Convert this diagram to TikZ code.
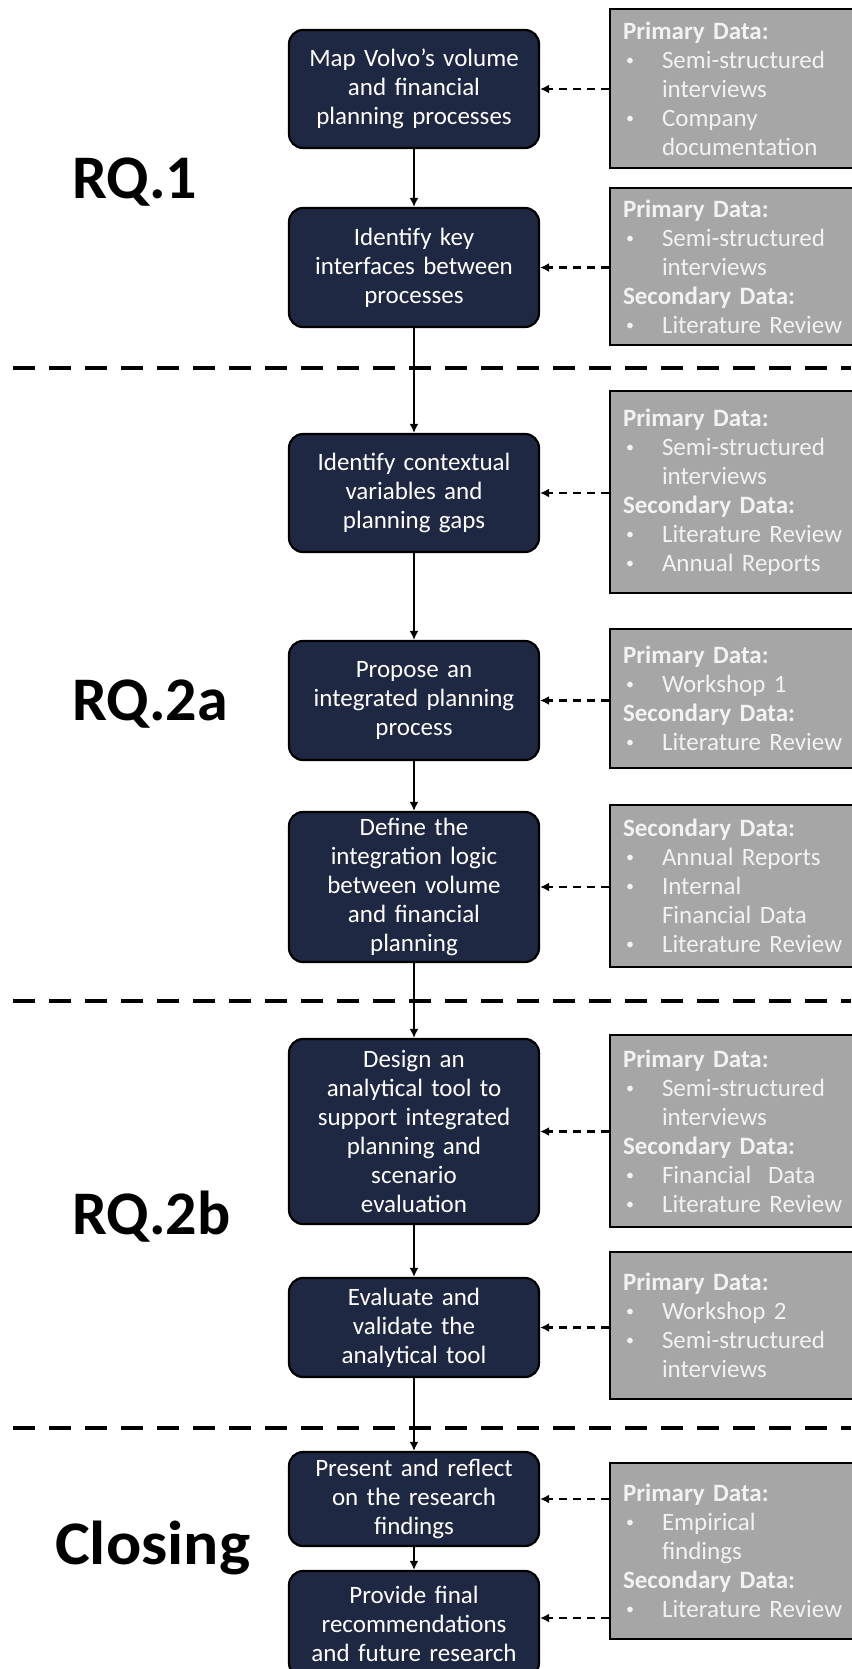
\documentclass[tikz,border=0pt]{standalone}
\usepackage{fontspec}
\setmainfont{Carlito}
\usepackage{xcolor}
\usetikzlibrary{positioning, arrows.meta}
\definecolor{volvonavy}{HTML}{1E2843}
\definecolor{datagray}{HTML}{A6A6A6}
\definecolor{datatext}{HTML}{F2F2F2}
\newcommand{\bul}{\makebox[39pt][l]{\hspace{3pt}\raisebox{3pt}{\fontsize{16}{16}\selectfont\textbullet}}}
\newcommand{\cont}{\hspace*{39pt}}

\tikzset{
  stepbox/.style={fill=volvonavy, draw=black, line width=2.2pt, rounded corners=14pt,
    text=white, minimum width=250pt, text width=236pt, align=center, inner sep=0pt,
    font=\fontsize{25}{29}\selectfont},
  databox/.style={fill=datagray, draw=black, line width=2.4pt, text=datatext,
    minimum width=246pt, text width=220pt, inner xsep=13pt, inner ysep=4pt, align=left,
    font=\fontsize{25}{29}\selectfont},
  rqlabel/.style={anchor=base west, inner sep=0pt, font=\fontsize{62}{70}\selectfont\bfseries},
  flow/.style={line width=2pt, -{Latex[length=9pt, width=9pt]}},
  feed/.style={line width=2.4pt, dash pattern=on 8pt off 6pt, -{Latex[length=9pt, width=9pt]}},
  divider/.style={line width=4.5pt, dash pattern=on 22pt off 14pt},
}

\begin{document}
\begin{tikzpicture}[x=1pt, y=-1pt]
  \useasboundingbox (0,0) rectangle (851,1669);

  % section dividers
  \draw[divider] (13,368) -- (851,368);
  \draw[divider] (13,1001) -- (851,1001);
  \draw[divider] (13,1428) -- (851,1428);

  % section labels
  \node[rqlabel] (rq1) at (72,199) {RQ.1};
  \node[rqlabel] (rq2a) at (72,720) {RQ.2a};
  \node[rqlabel] (rq2b) at (72,1234) {RQ.2b};
  \node[rqlabel, xscale=1.06] (closing) at (55,1564) {Closing};

  % research steps
  \node[stepbox, minimum height=118pt] (map) at (414,89)
    {Map Volvo’s volume\\and financial\\planning processes};
  \node[stepbox, minimum height=119pt] (interfaces) at (414,267.5)
    {Identify key\\interfaces between\\processes};
  \node[stepbox, minimum height=118pt] (context) at (414,493)
    {Identify contextual\\variables and\\planning gaps};
  \node[stepbox, minimum height=119pt] (propose) at (414,700.5)
    {Propose an\\integrated planning\\process};
  \node[stepbox, minimum height=150pt] (logic) at (414,887)
    {Define the\\integration logic\\between volume\\and financial\\planning};
  \node[stepbox, minimum height=185pt] (design) at (414,1131.5)
    {Design an\\analytical tool to\\support integrated\\planning and\\scenario\\evaluation};
  \node[stepbox, minimum height=99pt] (validate) at (414,1327.5)
    {Evaluate and\\validate the\\analytical tool};
  \node[stepbox, minimum height=94pt] (reflect) at (414,1499)
    {Present and reflect\\on the research\\findings};
  \node[stepbox, minimum height=106pt] (recommend) at (414,1624)
    {Provide final\\recommendations\\and future research};
  \coordinate (recin) at ([yshift=6pt]recommend.east);

  % data sources
  \node[databox, minimum height=159pt] (src1) at (733,88.5)
    {\textbf{Primary Data:}\\\bul Semi-structured\\\cont interviews\\\bul Company\\\cont documentation};
  \node[databox, minimum height=157pt] (src2) at (733,266.5)
    {\textbf{Primary Data:}\\\bul Semi-structured\\\cont interviews\\\textbf{Secondary Data:}\\\bul Literature Review};
  \node[databox, minimum height=202pt] (src3) at (733,492)
    {\textbf{Primary Data:}\\\bul Semi-structured\\\cont interviews\\\textbf{Secondary Data:}\\\bul Literature Review\\\bul Annual Reports};
  \node[databox, minimum height=139pt] (src4) at (733,698.5)
    {\textbf{Primary Data:}\\\bul Workshop 1\\\textbf{Secondary Data:}\\\bul Literature Review};
  \node[databox, minimum height=162pt] (src5) at (733,886)
    {\textbf{Secondary Data:}\\\bul Annual Reports\\\bul Internal\\\cont Financial Data\\\bul Literature Review};
  \node[databox, minimum height=192pt] (src6) at (733,1131)
    {\textbf{Primary Data:}\\\bul Semi-structured\\\cont interviews\\\textbf{Secondary Data:}\\\bul Financial\ \ Data\\\bul Literature Review};
  \node[databox, minimum height=147pt] (src7) at (733,1325.5)
    {\textbf{Primary Data:}\\\bul Workshop 2\\\bul Semi-structured\\\cont interviews};
  \node[databox, minimum height=176pt] (src8) at (733,1551)
    {\textbf{Primary Data:}\\\bul Empirical\\\cont findings\\\textbf{Secondary Data:}\\\bul Literature Review};

  % flow between steps
  \draw[flow] (map) -- (interfaces);
  \draw[flow] (interfaces) -- (context);
  \draw[flow] (context) -- (propose);
  \draw[flow] (propose) -- (logic);
  \draw[flow] (logic) -- (design);
  \draw[flow] (design) -- (validate);
  \draw[flow] (validate) -- (reflect);
  \draw[flow] (reflect) -- (recommend);

  % data feeding the steps
  \draw[feed] (src1.west |- map.east) -- (map.east);
  \draw[feed] (src2.west |- interfaces.east) -- (interfaces.east);
  \draw[feed] (src3.west |- context.east) -- (context.east);
  \draw[feed] (src4.west |- propose.east) -- (propose.east);
  \draw[feed] (src5.west |- logic.east) -- (logic.east);
  \draw[feed] (src6.west |- design.east) -- (design.east);
  \draw[feed] (src7.west |- validate.east) -- (validate.east);
  \draw[feed] (src8.west |- reflect.east) -- (reflect.east);
  \draw[feed] (src8.west |- recin) -- (recin);
\end{tikzpicture}
\end{document}
